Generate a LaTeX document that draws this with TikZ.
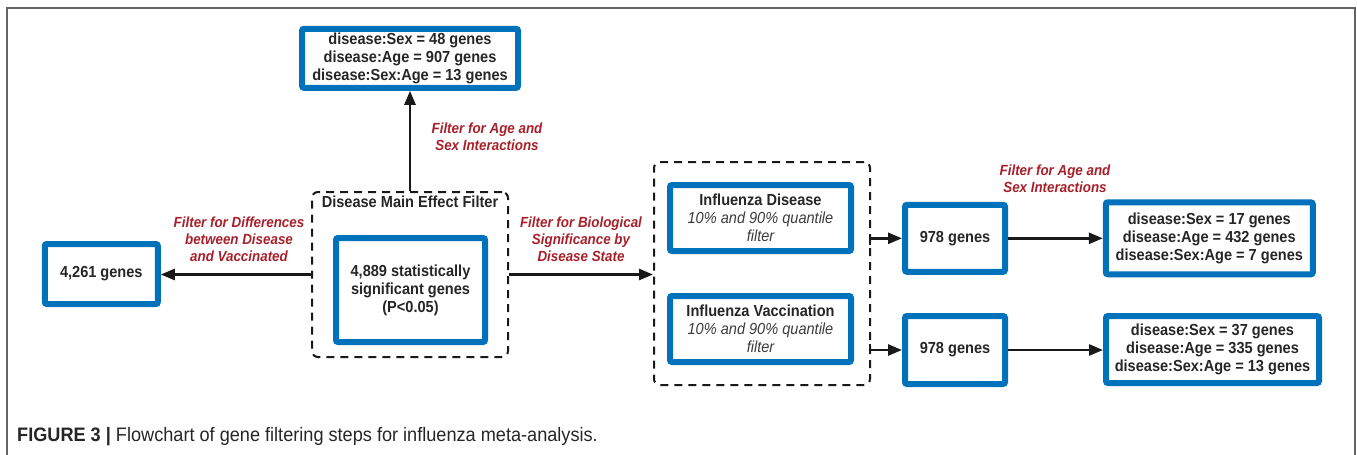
\documentclass[tikz,border=0pt]{standalone}
\usepackage{fontspec}
\setmainfont{Liberation Sans}
\newfontfamily\narrowsans{Liberation Sans}[FakeStretch=0.91]
\newfontfamily\captionsans{Liberation Sans}[FakeStretch=0.93]
\usetikzlibrary{arrows.meta}
\definecolor{boxblue}{RGB}{0,114,187}
\definecolor{labelred}{RGB}{168,32,42}
\definecolor{notegray}{RGB}{60,60,60}
\definecolor{framegray}{RGB}{100,100,100}
\newcommand\quantnote[1]{{\mdseries\itshape\color{notegray}#1}}
\tikzset{
  boxfont/.style={font=\narrowsans\bfseries\fontsize{16}{18}\selectfont, text=black!85},
  genebox/.style={boxfont, draw=boxblue, line width=6pt, rounded corners=2pt, fill=white,
    align=center, inner sep=0pt},
  filtergroup/.style={draw=black!90, line width=2pt, dash pattern=on 8pt off 6pt,
    rounded corners=6pt, inner sep=0pt},
  flow/.style={draw=black!90, line width=2.6pt, -{Triangle[length=14pt,width=11pt]}},
  steplabel/.style={text=labelred, align=center,
    font=\narrowsans\bfseries\itshape\fontsize{14.7}{17}\selectfont}
}
\begin{document}
\begin{tikzpicture}[x=1pt,y=-1pt]
\useasboundingbox (0,0) rectangle (1357,455);
% outer frame
\draw[framegray, line width=1.5pt] (7,460) -- (7,8) -- (1355,8) -- (1355,460);

% dashed filter groups
\node[filtergroup, minimum width=196pt, minimum height=165pt] (d1) at (410,274.5) {};
\node[boxfont] (d1title) at (410,201.5) {Disease Main Effect Filter};
\node[filtergroup, minimum width=216pt, minimum height=223pt] (d2) at (762,273.5) {};

% gene boxes
\node[genebox, minimum width=216pt, minimum height=59pt] (topres) at (410,58.3)
  {disease:Sex = 48 genes\\disease:Age = 907 genes\\disease:Sex:Age = 13 genes};
\node[genebox, minimum width=113pt, minimum height=60pt] (g4261) at (101.3,274) {4,261 genes};
\node[genebox, minimum width=149pt, minimum height=104pt] (main) at (410.5,290)
  {4,889 statistically\\significant genes\\(P<0.05)};
\node[genebox, minimum width=181pt, minimum height=66pt] (infdis) at (760.5,218)
  {Influenza Disease\\\quantnote{10\% and 90\% quantile}\\\quantnote{filter}};
\node[genebox, minimum width=181pt, minimum height=66pt] (infvac) at (760.5,329)
  {Influenza Vaccination\\\quantnote{10\% and 90\% quantile}\\\quantnote{filter}};
\node[genebox, minimum width=100pt, minimum height=67pt] (g978a) at (955,238.3) {978 genes};
\node[genebox, minimum width=100pt, minimum height=68pt] (g978b) at (955,350) {978 genes};
\node[genebox, minimum width=207pt, minimum height=72pt] (resa) at (1209.3,238.3)
  {disease:Sex = 17 genes\\disease:Age = 432 genes\\disease:Sex:Age = 7 genes};
\node[genebox, minimum width=213pt, minimum height=67pt] (resb) at (1212.5,349.5)
  {disease:Sex = 37 genes\\disease:Age = 335 genes\\disease:Sex:Age = 13 genes};

% step labels
\node[steplabel] (lbtop) at (487,137) {Filter for Age and\\Sex Interactions};
\node[steplabel] (lbleft) at (239,239) {Filter for Differences\\between Disease\\and Vaccinated};
\node[steplabel] (lbright) at (581,239) {Filter for Biological\\Significance by\\Disease State};
\node[steplabel] (lbright2) at (1055,178.5) {Filter for Age and\\Sex Interactions};

% connectors
\draw[flow] (d1.north) -- (d1.north |- topres.south);
\draw[flow] (d1.west) -- (d1.west -| g4261.east);
\draw[flow] (d1.east) -- (d1.east -| d2.west);
\coordinate (ea) at (870,245);
\coordinate (eb) at (870,344);
\draw[flow] (ea) |- (g978a.west);
\draw[flow] (eb) |- (g978b.west);
\draw[flow] (g978a.east) -- (g978a.east -| resa.west);
\draw[flow] (g978b.east) -- (g978b.east -| resb.west);

% caption
\node[anchor=base west, font=\captionsans\fontsize{19.5}{21}\selectfont, text=black!85, inner sep=0pt] (cap) at (17,441.5)
  {\textbf{FIGURE 3 |} Flowchart of gene filtering steps for influenza meta-analysis.};
\end{tikzpicture}
\end{document}
